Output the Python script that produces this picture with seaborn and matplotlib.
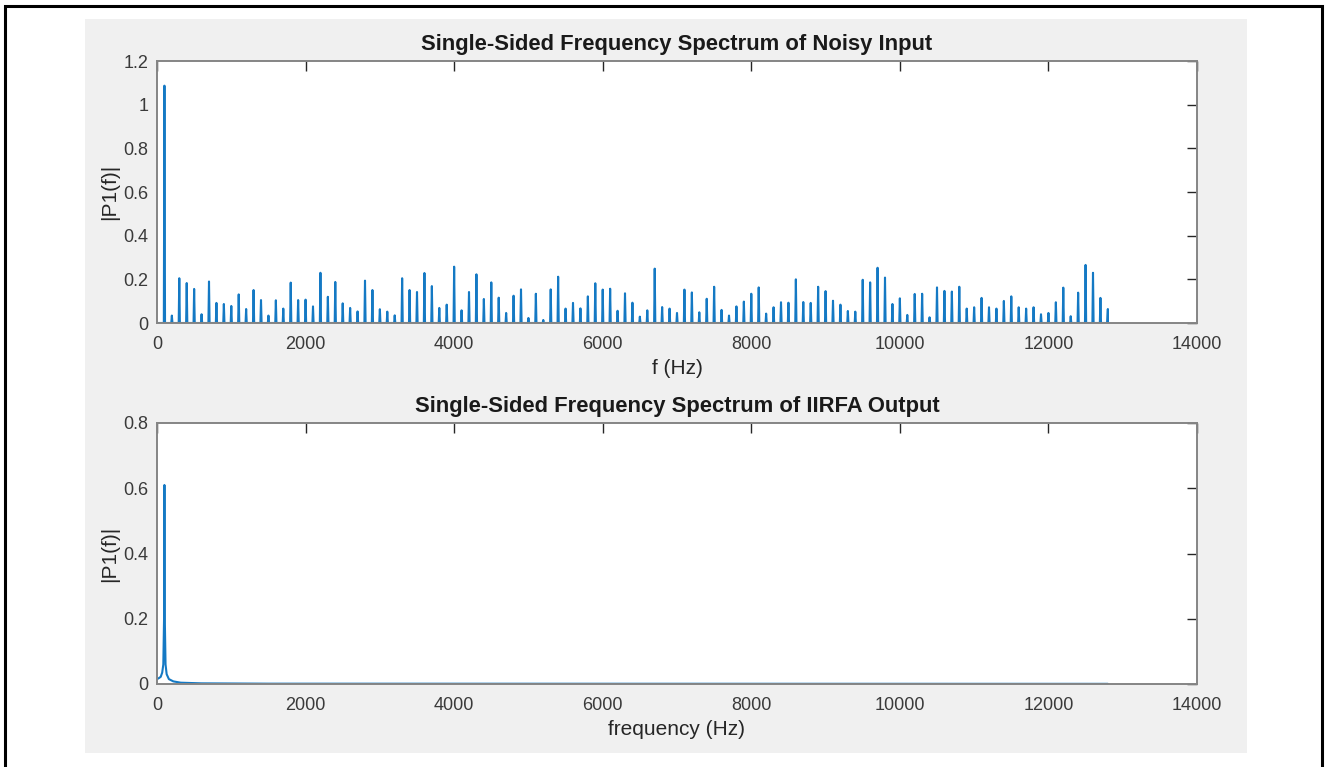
"""
Single-sided spectra of the noisy input and the IIRFA output, MATLAB look.
"""

import numpy as np
import pandas as pd
import matplotlib.pyplot as plt
import seaborn as sns
from matplotlib.patches import Rectangle

# spike frequencies (Hz) and magnitudes
spike_freq = np.arange(100, 12900, 100)
spike_mag = [
    1.087, 0.034, 0.205, 0.183, 0.156, 0.040, 0.190, 0.092, 0.087, 0.078,
    0.131, 0.064, 0.151, 0.105, 0.034, 0.104, 0.066, 0.185, 0.105, 0.107,
    0.076, 0.230, 0.120, 0.188, 0.090, 0.069, 0.053, 0.194, 0.151, 0.063,
    0.052, 0.035, 0.205, 0.151, 0.142, 0.229, 0.169, 0.069, 0.084, 0.258,
    0.058, 0.142, 0.223, 0.110, 0.186, 0.116, 0.046, 0.125, 0.154, 0.023,
    0.134, 0.014, 0.154, 0.212, 0.066, 0.092, 0.067, 0.122, 0.182, 0.153,
    0.157, 0.056, 0.136, 0.093, 0.029, 0.058, 0.249, 0.073, 0.066, 0.046,
    0.153, 0.140, 0.049, 0.111, 0.166, 0.060, 0.034, 0.076, 0.098, 0.134,
    0.163, 0.043, 0.072, 0.095, 0.093, 0.200, 0.096, 0.092, 0.166, 0.146,
    0.102, 0.084, 0.055, 0.052, 0.198, 0.186, 0.253, 0.208, 0.087, 0.113,
    0.037, 0.133, 0.134, 0.026, 0.163, 0.147, 0.144, 0.166, 0.066, 0.072,
    0.115, 0.072, 0.066, 0.101, 0.122, 0.072, 0.066, 0.072, 0.040, 0.046,
    0.095, 0.162, 0.031, 0.139, 0.266, 0.230, 0.115, 0.064,
]

# filtered output: one lobe around 100 Hz, then practically nothing
out_freq = [0, 25, 50, 70, 85, 95, 100, 105, 115, 130, 160, 220, 320, 600, 1500, 12800]
out_mag = [0.015, 0.018, 0.022, 0.035, 0.06, 0.2, 0.61, 0.2, 0.06, 0.03,
           0.015, 0.008, 0.004, 0.002, 0.001, 0.0005]

xticks = list(range(0, 14001, 2000))
top_yticks = [0, 0.2, 0.4, 0.6, 0.8, 1.0, 1.2]
bottom_yticks = [0, 0.2, 0.4, 0.6, 0.8]

LINE = '#1479c4'
W, H = 1326, 767


def spike_line(freqs, mags, half=8):
    # each spectral line as a narrow triangle sitting on the zero floor
    xs, ys = [0.0], [0.0]
    for f, m in zip(freqs, mags):
        xs += [f - half, f, f + half]
        ys += [0.0, m, 0.0]
    xs[-1] = freqs[-1]
    return pd.DataFrame({'f': xs, 'mag': ys})


def style_axes(ax, yticks, ylim):
    ax.set_facecolor('white')
    ax.set_xlim(0, 14000)
    ax.set_ylim(*ylim)
    ax.set_xticks(xticks)
    ax.set_xticklabels([str(t) for t in xticks])
    ax.set_yticks(yticks)
    ax.set_yticklabels([f'{t:g}' for t in yticks])
    ax.tick_params(direction='in', length=7, width=1, top=True, right=True,
                   labelsize=13, colors='#262626', labelcolor='#3a3a3a')
    ax.tick_params(axis='x', pad=9)
    ax.tick_params(axis='y', pad=6)
    for sp in ax.spines.values():
        sp.set_visible(True)
        sp.set_color('#858585')
        sp.set_linewidth(1.4)
    ax.set_ylabel('|P1(f)|', fontsize=15, color='#262626', labelpad=3)


sns.set_theme(style='white')
plt.rcParams['font.family'] = ['Liberation Sans', 'DejaVu Sans']

fig = plt.figure(figsize=(W / 100, H / 100), dpi=100)
fig.patch.set_facecolor('white')

# MATLAB figure panel and outer frame
fig.add_artist(Rectangle((85 / W, 1 - 753 / H), (1247 - 85) / W, (753 - 19) / H,
                         transform=fig.transFigure, facecolor='#f0f0f0',
                         edgecolor='none', zorder=-2))
fig.add_artist(Rectangle((5 / W, -0.02), (1322 - 5) / W, 1 - 5.5 / H + 0.02,
                         transform=fig.transFigure, facecolor='none',
                         edgecolor='black', linewidth=2.2, zorder=5))

ax1 = fig.add_axes([157 / W, 1 - 323 / H, (1197 - 157) / W, (323 - 61) / H])
ax2 = fig.add_axes([157 / W, 1 - 684 / H, (1197 - 157) / W, (684 - 423) / H])

top_df = spike_line(spike_freq, spike_mag)
sns.lineplot(data=top_df, x='f', y='mag', ax=ax1, color=LINE, linewidth=1.5,
             sort=False, estimator=None)
style_axes(ax1, top_yticks, (0, 1.2))
ax1.set_title('Single-Sided Frequency Spectrum of Noisy Input',
              fontsize=15.8, fontweight='bold', color='#1a1a1a', pad=8)
ax1.set_xlabel('f (Hz)', fontsize=15, color='#262626', labelpad=5)

bottom_df = pd.DataFrame({'f': out_freq, 'mag': out_mag})
sns.lineplot(data=bottom_df, x='f', y='mag', ax=ax2, color=LINE, linewidth=1.5,
             sort=False, estimator=None)
style_axes(ax2, bottom_yticks, (0, 0.8))
ax2.set_title('Single-Sided Frequency Spectrum of IIRFA Output',
              fontsize=15.8, fontweight='bold', color='#1a1a1a', pad=8)
ax2.set_xlabel('frequency (Hz)', fontsize=15, color='#262626', labelpad=5)

fig.savefig('out.png', dpi=100)
plt.close(fig)
